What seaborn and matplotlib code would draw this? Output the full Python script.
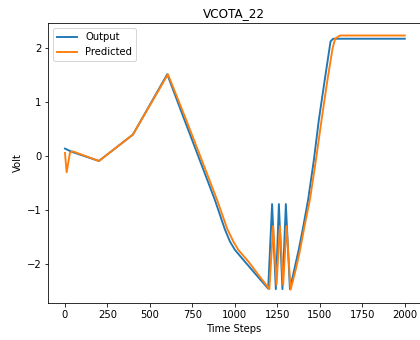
import matplotlib
matplotlib.use("Agg")
import matplotlib.pyplot as plt
import seaborn as sns

# Measured circuit output
output_steps = [0, 40, 200, 400, 602, 700, 800, 882, 940, 970, 1000, 1059, 1127,
                1196, 1219, 1241, 1259, 1280, 1300, 1324, 1350, 1375, 1400, 1431,
                1465, 1494, 1529, 1563, 1578, 2000]
output_volt = [0.14, 0.08, -0.09, 0.40, 1.52, 0.70, -0.13, -0.81, -1.35, -1.58,
               -1.74, -1.96, -2.21, -2.46, -0.89, -2.47, -0.89, -2.47, -0.89, -2.47,
               -2.10, -1.75, -1.35, -0.81, -0.07, 0.67, 1.42, 2.13, 2.18, 2.18]

# Model prediction
pred_steps = [0, 10, 29, 45, 200, 400, 606, 710, 812, 895, 955, 990, 1020, 1080,
              1140, 1203, 1225, 1245, 1265, 1284, 1304, 1328, 1355, 1380, 1410,
              1442, 1477, 1510, 1545, 1575, 1590, 1618, 2000]
pred_volt = [0.06, -0.30, 0.06, 0.09, -0.09, 0.40, 1.52, 0.70, -0.13, -0.81,
             -1.35, -1.58, -1.74, -1.96, -2.21, -2.47, -1.30, -2.39, -1.30, -2.39,
             -1.30, -2.48, -2.15, -1.80, -1.30, -0.80, -0.07, 0.67, 1.42, 2.00,
             2.18, 2.24, 2.24]

fig = plt.figure(figsize=(420 / 72, 340 / 72), dpi=72)
ax = fig.add_axes([0.115, 0.110, 0.884, 0.822])

sns.lineplot(x=output_steps, y=output_volt, ax=ax, color="tab:blue",
             label="Output", estimator=None, linewidth=1.9)
sns.lineplot(x=pred_steps, y=pred_volt, ax=ax, color="tab:orange",
             label="Predicted", estimator=None, linewidth=1.9)

ax.set_xlim(-98, 2087)
ax.set_ylim(-2.72, 2.47)
ax.set_xticks([0, 250, 500, 750, 1000, 1250, 1500, 1750, 2000])
ax.set_yticks([-2, -1, 0, 1, 2])
ax.set_title("VCOTA_22", fontsize=12)
ax.set_xlabel("Time Steps", fontsize=10)
ax.set_ylabel("Volt", fontsize=10)
ax.legend(loc="upper left")

fig.savefig("out.png", dpi=72)
